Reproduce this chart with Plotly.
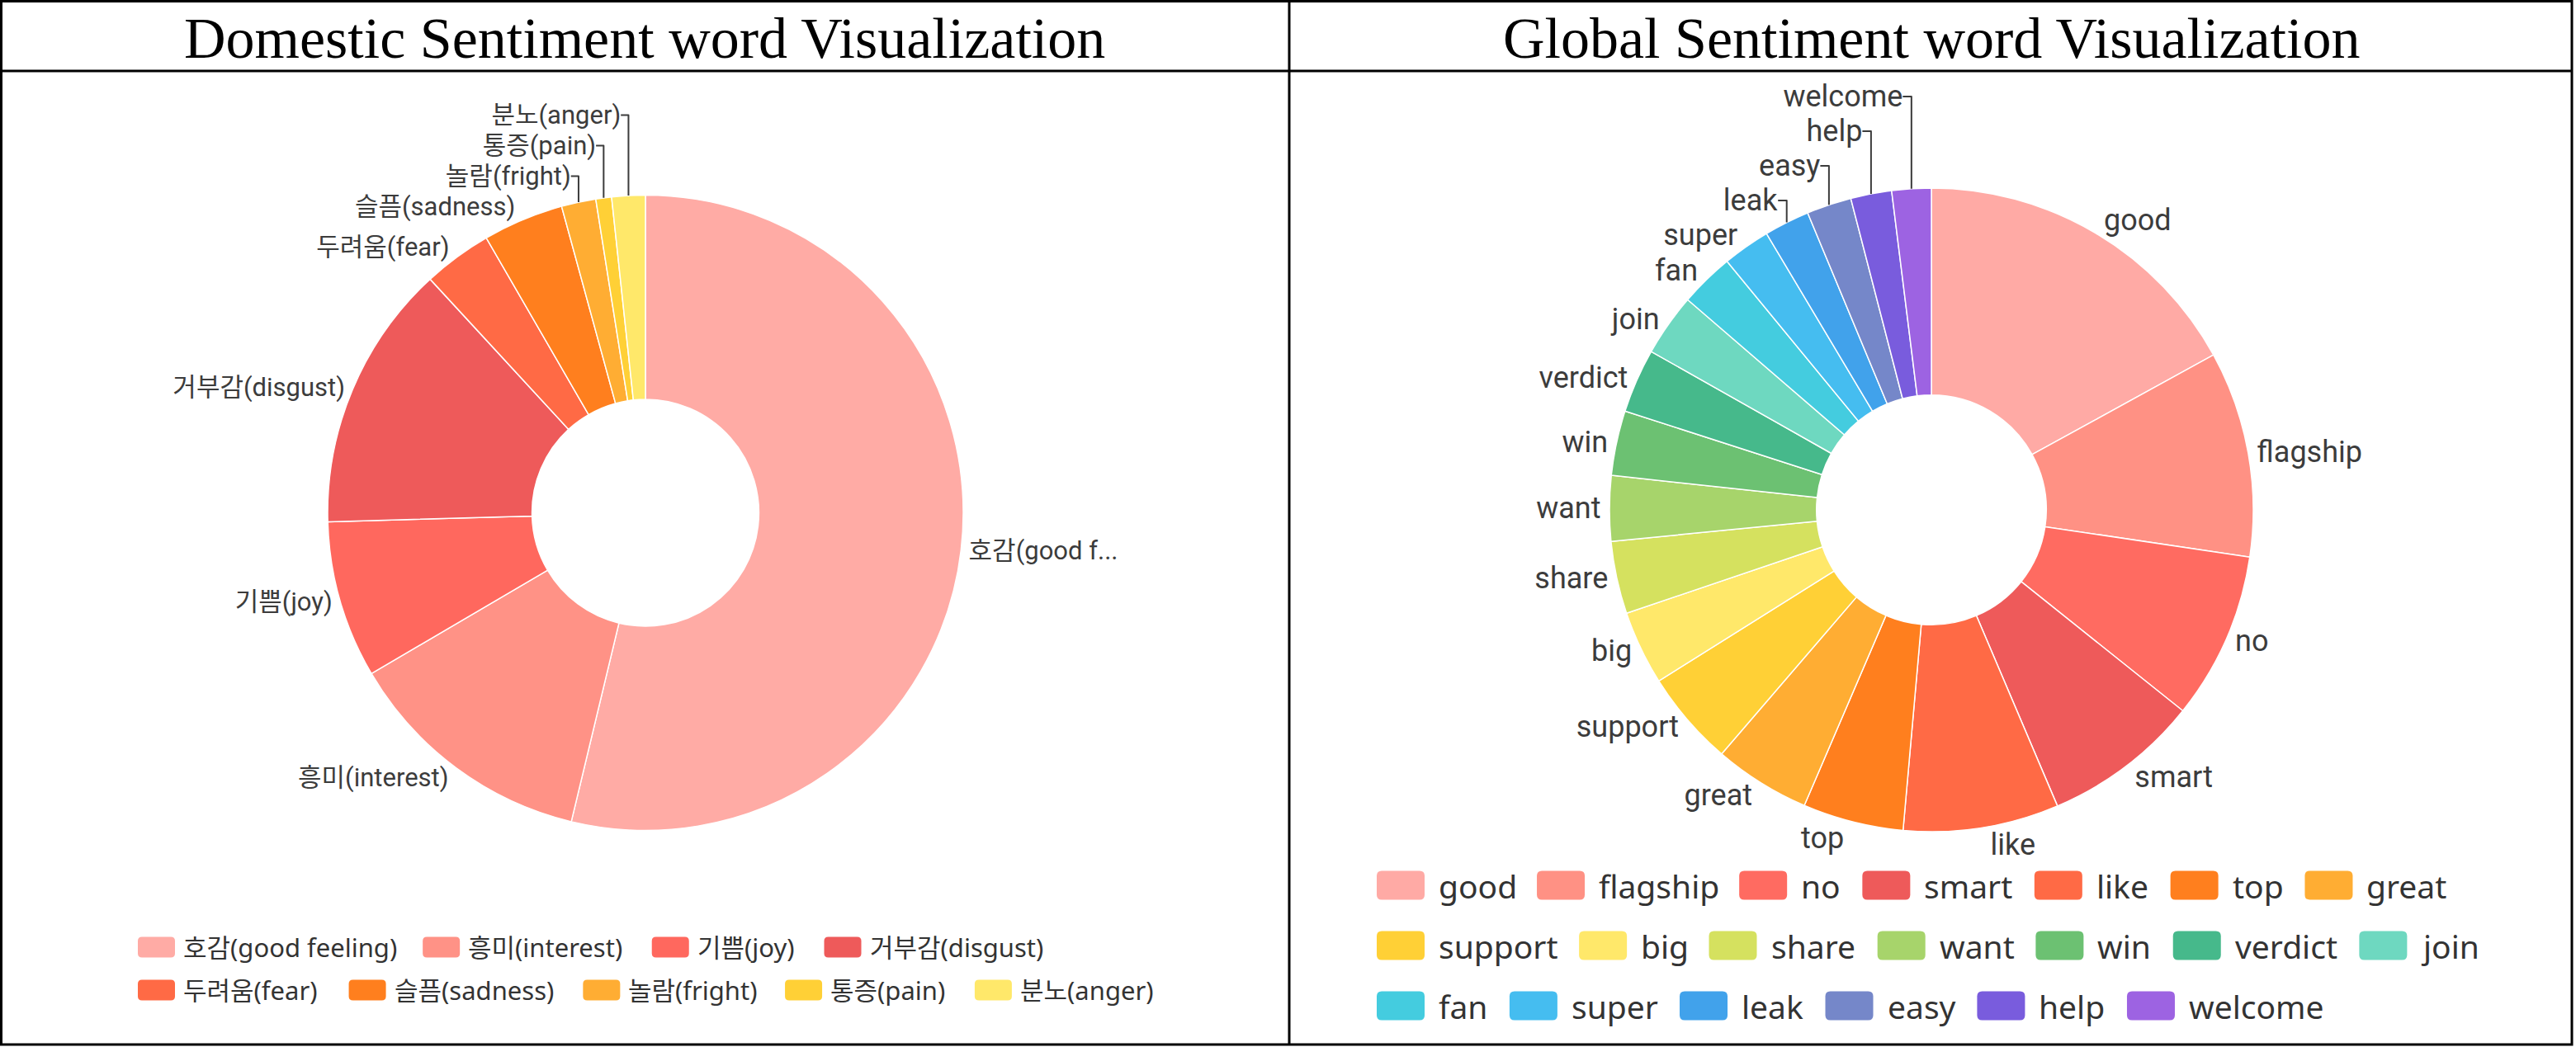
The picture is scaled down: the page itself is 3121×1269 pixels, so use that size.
import plotly.graph_objects as go

W, H = 3121, 1269

# ---------------- data ----------------
dom_labels = ["호감(good feeling)", "흥미(interest)", "기쁨(joy)", "거부감(disgust)",
              "두려움(fear)", "슬픔(sadness)", "놀람(fright)", "통증(pain)", "분노(anger)"]
dom_values = [1075, 256, 160, 272, 70, 82, 35, 16, 34]
dom_colors = ["#FFABA5", "#FF9286", "#FF685E", "#EE5A5A", "#FF6A45",
              "#FF7F1E", "#FFAD33", "#FFD036", "#FFE86A"]

glb_labels = ["good", "flagship", "no", "smart", "like", "top", "great",
              "support", "big", "share", "want", "win", "verdict", "join",
              "fan", "super", "leak", "easy", "help", "welcome"]
glb_values = [612, 372, 302, 283, 281, 182, 174, 172, 134, 131,
              118, 117, 116, 113, 98, 86, 82, 81, 74, 71]
glb_colors = ["#FFAAA5", "#FF9184", "#FF6B61", "#EE5A5A", "#FF6A45", "#FF7F1E", "#FFAD33",
              "#FFD036", "#FFE86A", "#D5E15F", "#A7D46B", "#6CC172", "#46B98B", "#6ED8C0",
              "#44CCDF", "#45BDF0", "#41A2EB", "#7587C9", "#795CDD", "#9D63E2"]

titles = ["Domestic Sentiment word Visualization", "Global Sentiment word Visualization"]

# ---------------- helpers (layout in pixels -> paper) ----------------
def px(x):
    return x / W

def py(y):
    return 1 - y / H

def trunc(s, n=14, keep=9):
    return s if len(s) <= n else s[:keep] + "..."

LAT = {"a": .56, "b": .61, "c": .48, "d": .61, "e": .56, "f": .34, "g": .55, "h": .61,
       "i": .26, "j": .26, "k": .53, "l": .26, "m": .93, "n": .61, "o": .60, "p": .61,
       "q": .61, "r": .41, "s": .48, "t": .35, "u": .61, "v": .50, "w": .78, "x": .52,
       "y": .50, "z": .47, "(": .30, ")": .30, " ": .26, ".": .27}

def text_w(s, size):
    return size * sum(1.0 if ord(c) > 0x1000 else LAT.get(c, .6) for c in s)

LEG_FONT = "Noto Sans, Noto Sans CJK KR, sans-serif"
LAB_FONT = "Roboto, Noto Sans CJK KR, sans-serif"

def rrect(x0, y0, x1, y1, r):
    rx, ry = r / W, r / H
    X0, X1, Y0, Y1 = px(x0), px(x1), py(y1), py(y0)
    return (f"M{X0+rx},{Y0} L{X1-rx},{Y0} Q{X1},{Y0} {X1},{Y0+ry} L{X1},{Y1-ry} "
            f"Q{X1},{Y1} {X1-rx},{Y1} L{X0+rx},{Y1} Q{X0},{Y1} {X0},{Y1-ry} "
            f"L{X0},{Y0+ry} Q{X0},{Y0} {X0+rx},{Y0} Z")

def legend(labels, colors, x_start, x_limit, y_first, row_h, size, sw_w, sw_h, g1, g2, rad):
    shapes, annots = [], []
    x, y = x_start, y_first
    for lab, col in zip(labels, colors):
        tw = text_w(lab, size)
        if x > x_start and x + sw_w + g1 + tw > x_limit:
            x, y = x_start, y + row_h
        shapes.append(dict(type="path", path=rrect(x, y - sw_h / 2, x + sw_w, y + sw_h / 2, rad),
                           xref="paper", yref="paper", fillcolor=col, line=dict(width=0),
                           layer="above"))
        annots.append(dict(text=lab, x=px(x + sw_w + g1), y=py(y), xref="paper", yref="paper",
                           xanchor="left", yanchor="middle", showarrow=False,
                           font=dict(family=LEG_FONT, size=size, color="#333333")))
        x += sw_w + g1 + tw + g2
    return shapes, annots

def domain(cx, cy, r):
    return dict(x=[px(cx - r), px(cx + r)], y=[py(cy + r), py(cy - r)])

# ---------------- figure ----------------
fig = go.Figure()

fig.add_trace(go.Pie(
    labels=dom_labels, values=dom_values, text=[trunc(s) for s in dom_labels],
    textinfo="text", textposition="outside", sort=False, direction="clockwise",
    rotation=0, hole=0.357, domain=domain(782, 621.5, 385),
    marker=dict(colors=dom_colors, line=dict(color="white", width=1.5)),
    outsidetextfont=dict(family=LAB_FONT, size=31, color="#3c3c3c"),
    showlegend=False, hoverinfo="label+value+percent"))

fig.add_trace(go.Pie(
    labels=glb_labels, values=glb_values, text=glb_labels,
    textinfo="text", textposition="outside", sort=False, direction="clockwise",
    rotation=0, hole=0.357, domain=domain(2340, 618, 390),
    marker=dict(colors=glb_colors, line=dict(color="white", width=1.5)),
    outsidetextfont=dict(family=LAB_FONT, size=36, color="#3c3c3c"),
    showlegend=False, hoverinfo="label+value+percent"))

shapes = [
    dict(type="rect", xref="paper", yref="paper", x0=px(1.5), x1=px(3116), y0=py(1266), y1=py(1.5),
         line=dict(color="black", width=3), fillcolor="rgba(0,0,0,0)"),
    dict(type="line", xref="paper", yref="paper", x0=px(1.5), x1=px(3116), y0=py(86), y1=py(86),
         line=dict(color="black", width=3)),
    dict(type="line", xref="paper", yref="paper", x0=px(1562), x1=px(1562), y0=py(1.5), y1=py(1266),
         line=dict(color="black", width=3)),
]
annots = [
    dict(text=titles[0], x=px(781), y=py(46), xref="paper", yref="paper", showarrow=False,
         xanchor="center", yanchor="middle",
         font=dict(family="Liberation Serif, serif", size=70, color="black")),
    dict(text=titles[1], x=px(2340), y=py(46), xref="paper", yref="paper", showarrow=False,
         xanchor="center", yanchor="middle",
         font=dict(family="Liberation Serif, serif", size=70, color="black")),
]

s1, a1 = legend(dom_labels, dom_colors, 167, 1460, 1148, 52, 31, 45, 25, 8, 33, 5)
s2, a2 = legend(glb_labels, glb_colors, 1668, 3080, 1073, 73, 39, 58, 35, 15, 29, 6)
shapes += s1 + s2
annots += a1 + a2

fig.update_layout(
    width=W, height=H, margin=dict(l=0, r=0, t=0, b=0, autoexpand=False),
    paper_bgcolor="white", plot_bgcolor="white", showlegend=False,
    shapes=shapes, annotations=annots,
    font=dict(family=LEG_FONT, color="#333333"),
)

fig.write_html("out.html", config={"displayModeBar": False},
               post_script="document.body.style.margin='0';document.body.style.overflow='hidden';")
